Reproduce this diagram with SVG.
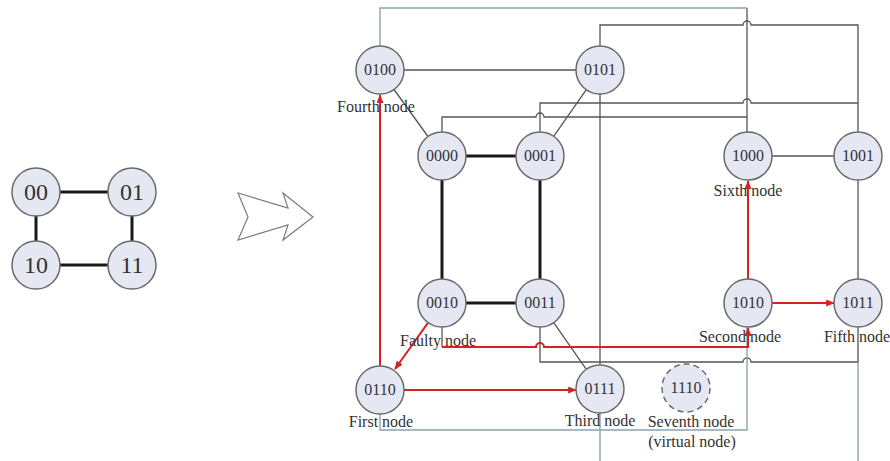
<svg xmlns="http://www.w3.org/2000/svg" width="890" height="461" viewBox="0 0 890 461">
<style>
.n circle{fill:#e5e8f3;stroke:#6b6b6b;stroke-width:1.5}
.n text{font-family:"Liberation Serif","Times New Roman",serif;font-size:16px;fill:#333;text-anchor:middle}
.big text{font-size:24px}
.lbl{font-family:"Liberation Serif","Times New Roman",serif;font-size:16px;fill:#333;text-anchor:middle}
.thin{fill:none;stroke:#555;stroke-width:1.3}
.thick{fill:none;stroke:#1a1a1a;stroke-width:3}
.blue{fill:none;stroke:#8aa3b3;stroke-width:1.4}
.red{fill:none;stroke:#d42323;stroke-width:2}
</style>
<defs>
<marker id="ah" viewBox="0 0 10 8" refX="9" refY="4" markerWidth="9" markerHeight="7" markerUnits="userSpaceOnUse" orient="auto">
<path d="M0,0 L10,4 L0,8 Z" fill="#d42323"/>
</marker>
</defs>
<rect width="890" height="461" fill="#fff"/>

<g id="connectors">
<!-- left graph -->
<path class="thick" d="M60,192 H108 M36,216 V241 M132,216 V241 M60,265 H108" stroke-width="3"/>
<!-- transformation arrow -->
<polygon points="238,193 288,208 283,193 313,217 283,240 288,225 238,240 248,217" fill="#fff" stroke="#7a7a7a" stroke-width="1.2"/>
<!-- right graph thin edges -->
<path class="thin" d="M404,70 H576"/>
<path class="thin" d="M394,89.5 L428,136.5"/>
<path class="thin" d="M586.3,89.7 L553.7,136.3"/>
<path class="thin" d="M772,156 H834"/>
<path class="thin" d="M858,180 V279"/>
<path class="thin" d="M553.7,322.7 L586.3,369.3"/>
<path class="thin" d="M600,46 V25 H743 a4,4 0 0 1 8,0 H858 V132"/>
<path class="thin" d="M540,132 V103 H743 a4,4 0 0 1 8,0 H858"/>
<path class="thin" d="M442,132 V117 H536 a4,4 0 0 1 8,0 H747"/>
<path class="thin" d="M747,8 V132"/>
<path class="thin" d="M600,94 V365"/>
<path class="thin" d="M540,327 V362 H743 a4,4 0 0 1 8,0 H858 V327"/>
<path class="thin" d="M442,327 V347"/>
<!-- blue edges -->
<path class="blue" d="M380,46 V8 H747"/>
<path class="blue" d="M380,414 V430 H747 V327"/>
<path class="blue" d="M600,413 V461"/>
<path class="blue" d="M858,362 V461"/>
<!-- thick edges -->
<path class="thick" d="M466,156 H516"/>
<path class="thick" d="M442,180 V279"/>
<path class="thick" d="M540,180 V279"/>
<path class="thick" d="M466,303 H516"/>
<!-- red route -->
<path class="red" d="M380,366 V95" marker-end="url(#ah)"/>
<path class="red" d="M428.1,322.6 L395,369" marker-end="url(#ah)"/>
<path class="red" d="M404,390 H576" stroke-width="3" marker-end="url(#ah)"/>
<path class="red" d="M442,347 H536 a4,4 0 0 1 8,0 H748 V328" marker-end="url(#ah)"/>
<path class="red" d="M772,303 H834" marker-end="url(#ah)"/>
<path class="red" d="M748,279 V181" marker-end="url(#ah)"/>
</g>

<!-- left graph nodes -->
<g id="n00" class="n big"><circle cx="36" cy="192" r="24"/><text x="36" y="200">00</text></g>
<g id="n01" class="n big"><circle cx="132" cy="192" r="24"/><text x="132" y="200">01</text></g>
<g id="n10" class="n big"><circle cx="36" cy="265" r="24"/><text x="36" y="273">10</text></g>
<g id="n11" class="n big"><circle cx="132" cy="265" r="24"/><text x="132" y="273">11</text></g>

<!-- right graph nodes -->
<g id="n0100" class="n"><circle cx="380" cy="70" r="24"/><text x="380" y="75">0100</text></g>
<g id="n0101" class="n"><circle cx="600" cy="70" r="24"/><text x="600" y="75">0101</text></g>
<g id="n0000" class="n"><circle cx="442" cy="156" r="24"/><text x="442" y="161">0000</text></g>
<g id="n0001" class="n"><circle cx="540" cy="156" r="24"/><text x="540" y="161">0001</text></g>
<g id="n1000" class="n"><circle cx="748" cy="156" r="24"/><text x="748" y="161">1000</text></g>
<g id="n1001" class="n"><circle cx="858" cy="156" r="24"/><text x="858" y="161">1001</text></g>
<g id="n0010" class="n"><circle cx="442" cy="303" r="24"/><text x="442" y="308">0010</text></g>
<g id="n0011" class="n"><circle cx="540" cy="303" r="24"/><text x="540" y="308">0011</text></g>
<g id="n1010" class="n"><circle cx="748" cy="303" r="24"/><text x="748" y="308">1010</text></g>
<g id="n1011" class="n"><circle cx="858" cy="303" r="24"/><text x="858" y="308">1011</text></g>
<g id="n0110" class="n"><circle cx="380" cy="390" r="24"/><text x="380" y="395">0110</text></g>
<g id="n0111" class="n"><circle cx="600" cy="389" r="24"/><text x="600" y="394">0111</text></g>
<g id="n1110" class="n"><circle cx="686" cy="388" r="24" stroke-dasharray="6,4"/><text x="686" y="393">1110</text></g>

<!-- labels -->
<g id="labels">
<text class="lbl" x="376" y="112">Fourth node</text>
<text class="lbl" x="748" y="196">Sixth node</text>
<text class="lbl" x="438" y="346">Faulty node</text>
<text class="lbl" x="740" y="342">Second node</text>
<text class="lbl" x="857" y="342">Fifth node</text>
<text class="lbl" x="381" y="427">First node</text>
<text class="lbl" x="600" y="426">Third node</text>
<text class="lbl" x="691" y="427">Seventh node</text>
<text class="lbl" x="692" y="447">(virtual node)</text>
</g>
</svg>
